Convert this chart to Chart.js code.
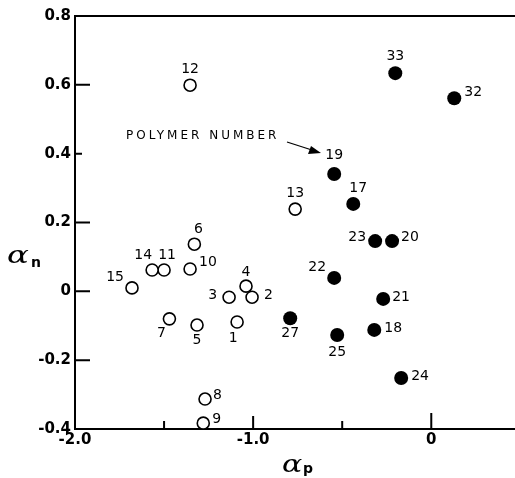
<html>
<head>
<script src="https://cdn.jsdelivr.net/npm/chart.js@4.4.0/dist/chart.umd.min.js"></script>
<style>
body { margin:0; background:#fff; overflow:hidden; }
#wrap { width:515px; height:478px; }
</style>
</head>
<body>
<div id="wrap"><canvas id="myChart" width="515" height="478"></canvas></div>
<script>

// open circles (polymers 1-15)
var openIds = ['1','2','3','4','5','6','7','8','9','10','11','12','13','14','15'];
var openX   = [-1.09,-1.006,-1.135,-1.04,-1.315,-1.33,-1.47,-1.27,-1.28,-1.354,-1.50,-1.354,-0.764,-1.567,-1.68];
var openY   = [-0.089,-0.017,-0.017,0.015,-0.098,0.137,-0.080,-0.313,-0.383,0.065,0.062,0.599,0.239,0.062,0.010];

// filled circles (polymers 17-33)
var filledIds = ['17','18','19','20','21','22','23','24','25','27','32','33'];
var filledX   = [-0.438,-0.32,-0.545,-0.22,-0.27,-0.545,-0.315,-0.169,-0.528,-0.792,0.129,-0.202];
var filledY   = [0.254,-0.112,0.341,0.146,-0.022,0.039,0.146,-0.252,-0.127,-0.078,0.561,0.634];

var xTicks = [-2, -1, 0];
var xTickLabels = ['-2.0', '-1.0', '0'];
var xMinorTicks = [-1.5, -0.5];
var yTicks = [-0.4, -0.2, 0, 0.2, 0.4, 0.6, 0.8];
var yTickLabels = ['-0.4', '-0.2', '0', '0.2', '0.4', '0.6', '0.8'];

// label placement next to each point: dx, dy, align
var labelPos = {
  '1':[-4,16,'center'], '2':[12,-2,'left'], '3':[-12,-2,'right'], '4':[0,-14,'center'],
  '5':[0,15,'center'], '6':[4,-15,'center'], '7':[-8,14,'center'], '8':[8,-4,'left'],
  '9':[9,-4,'left'], '10':[9,-7,'left'], '11':[3,-15,'center'], '12':[0,-16,'center'],
  '13':[0,-16,'center'], '14':[-9,-15,'center'], '15':[-8,-11,'right'],
  '17':[5,-16,'center'], '18':[10,-2,'left'], '19':[0,-19,'center'], '20':[9,-4,'left'],
  '21':[9,-2,'left'], '22':[-17,-11,'center'], '23':[-9,-4,'right'], '24':[10,-2,'left'],
  '25':[0,17,'center'], '27':[0,15,'center'], '32':[10,-6,'left'], '33':[0,-17,'center']
};

function toPoints(xs, ys) {
  return xs.map((x, i) => ({x: x, y: ys[i]}));
}

function wideText(ctx, txt, x, y, sx) {
  ctx.save();
  ctx.translate(x, y);
  ctx.scale(sx, 1);
  ctx.fillText(txt, 0, 0);
  ctx.restore();
}

var decor = {
  id: 'decor',
  afterDraw(chart) {
    var ctx = chart.ctx, a = chart.chartArea;
    var xs = chart.scales.x, ys = chart.scales.y;
    ctx.save();
    ctx.strokeStyle = '#000';
    ctx.fillStyle = '#000';
    ctx.lineWidth = 2;
    // top frame line
    ctx.beginPath(); ctx.moveTo(a.left, a.top); ctx.lineTo(a.right, a.top); ctx.stroke();
    // inward ticks
    ctx.beginPath();
    yTicks.forEach(v => {
      if (v == -0.4 || v == 0.8) return;
      var py = ys.getPixelForValue(v);
      var len = (v == 0.4) ? 7 : 15;
      ctx.moveTo(a.left, py); ctx.lineTo(a.left + len, py);
    });
    xTicks.forEach(v => {
      if (v == -2) return;
      var px = xs.getPixelForValue(v);
      ctx.moveTo(px, a.bottom); ctx.lineTo(px, a.bottom - (v == 0 ? 16 : 13));
    });
    xMinorTicks.forEach(v => {
      var px = xs.getPixelForValue(v);
      ctx.moveTo(px, a.bottom); ctx.lineTo(px, a.bottom - 8);
    });
    ctx.stroke();

    // point labels
    ctx.font = '14px "DejaVu Sans"';
    ctx.textBaseline = 'middle';
    chart.data.datasets.forEach((ds, di) => {
      var meta = chart.getDatasetMeta(di);
      meta.data.forEach((el, i) => {
        var id = ds.ids[i], p = labelPos[id];
        ctx.textAlign = p[2];
        ctx.fillText(id, el.x + p[0], el.y + p[1]);
      });
    });

    // annotation
    ctx.font = '12px "DejaVu Sans"';
    ctx.letterSpacing = '3px';
    ctx.textAlign = 'left';
    ctx.fillText('POLYMER NUMBER', 126, 136);
    ctx.letterSpacing = '0px';
    ctx.lineWidth = 1.3;
    ctx.beginPath(); ctx.moveTo(287, 142); ctx.lineTo(315, 151); ctx.stroke();
    ctx.beginPath();
    ctx.moveTo(321, 153); ctx.lineTo(308, 154); ctx.lineTo(311, 146); ctx.closePath(); ctx.fill();

    // axis titles
    ctx.textBaseline = 'alphabetic';
    ctx.font = 'italic 24px "DejaVu Serif"';
    wideText(ctx, '\u03b1', 7, 263, 1.35);
    wideText(ctx, '\u03b1', 282, 472, 1.25);
    ctx.font = 'bold 14px "DejaVu Sans"';
    ctx.fillText('n', 31, 267);
    ctx.fillText('p', 303, 473);
    ctx.restore();
  }
};

var ctx = document.getElementById('myChart').getContext('2d');
var myChart = new Chart(ctx, {
  type: 'scatter',
  data: {
    datasets: [
      {ids: openIds, data: toPoints(openX, openY), pointRadius: 6, pointBorderWidth: 1.6,
       pointBackgroundColor: '#fff', pointBorderColor: '#000'},
      {ids: filledIds, data: toPoints(filledX, filledY), pointRadius: 7, pointBorderWidth: 0,
       pointBackgroundColor: '#000', pointBorderColor: '#000'}
    ]
  },
  plugins: [decor],
  options: {
    responsive: false,
    animation: false,
    layout: {autoPadding: false, padding: {top: 16, right: 0, left: 0, bottom: 0}},
    plugins: {legend: {display: false}, tooltip: {enabled: false}},
    scales: {
      x: {
        type: 'linear', min: -2, max: 0.47,
        afterBuildTicks: s => { s.ticks = xTicks.map(v => ({value: v})); },
        afterFit: s => { s.height = 49; s.paddingRight = 0; s.paddingLeft = 0; },
        grid: {display: false, drawTicks: false},
        border: {display: true, color: '#000', width: 2},
        ticks: {
          padding: 2, color: '#000', font: {family: 'DejaVu Sans', size: 15, weight: 'bold'},
          callback: (v) => xTickLabels[xTicks.indexOf(v)]
        }
      },
      y: {
        type: 'linear', min: -0.4, max: 0.8,
        afterBuildTicks: s => { s.ticks = yTicks.map(v => ({value: v})); },
        afterFit: s => { s.width = 75; s.paddingTop = 0; s.paddingBottom = 0; },
        grid: {display: false, drawTicks: false},
        border: {display: true, color: '#000', width: 2},
        ticks: {
          padding: 4, color: '#000', font: {family: 'DejaVu Sans', size: 15, weight: 'bold'},
          callback: (v) => yTickLabels[yTicks.findIndex(t => Math.abs(t - v) < 1e-6)]
        }
      }
    }
  }
});
</script>
</body>
</html>
